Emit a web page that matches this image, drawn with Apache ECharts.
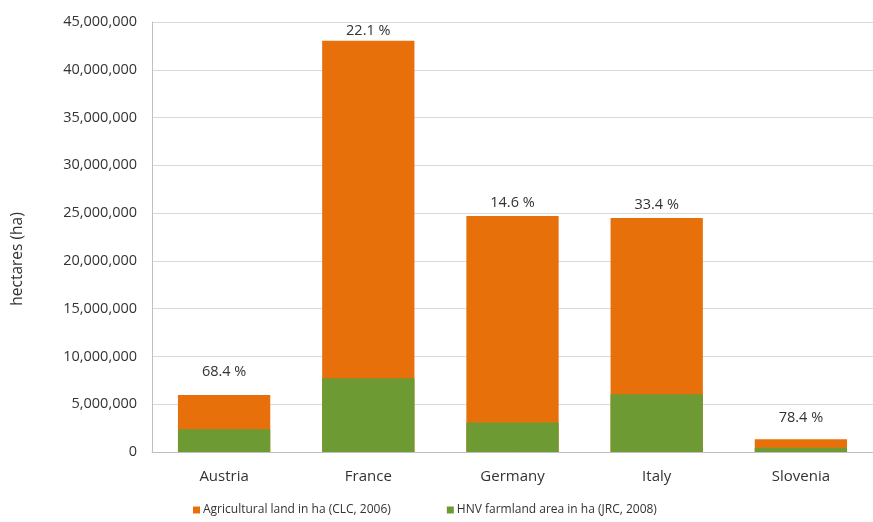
<!DOCTYPE html>
<html><head><meta charset="utf-8">
<script src="https://cdn.jsdelivr.net/npm/echarts@6/dist/echarts.min.js"></script>
<style>html,body{margin:0;padding:0;background:#fff}#c{width:873px;height:522px}</style>
</head><body><div id="c"></div>
<script>
const categories = ['Austria', 'France', 'Germany', 'Italy', 'Slovenia'];
const agriculturalLand = [5960000, 43040000, 24700000, 24500000, 1330000];
const hnvFarmland = [2380000, 7710000, 3100000, 6040000, 450000];
const shareLabels = ['68.4 %', '22.1 %', '14.6 %', '33.4 %', '78.4 %'];
const yTicks = [0, 5000000, 10000000, 15000000, 20000000, 25000000, 30000000, 35000000, 40000000, 45000000];
const seriesNames = ['Agricultural land in ha (CLC, 2006)', 'HNV farmland area in ha (JRC, 2008)'];
const yAxisTitle = 'hectares (ha)';

const labelGap = [16, 2, 6, 6, 14];
const FONT = '"Open Sans", sans-serif';
const chart = echarts.init(document.getElementById('c'));
chart.setOption({
  animation: false,
  textStyle: {fontFamily: FONT},
  grid: {left: 152, top: 22, width: 732, height: 430, containLabel: false},
  graphic: [{
    type: 'text', x: 18, y: 259, rotation: Math.PI / 2,
    style: {text: yAxisTitle, fontSize: 15.5, fill: '#333', fontFamily: FONT,
      align: 'center', verticalAlign: 'middle'}
  }],
  legend: {
    bottom: 1, left: 188, itemGap: 56, itemWidth: 7, itemHeight: 7, icon: 'rect',
    textStyle: {fontSize: 12, color: '#333', fontFamily: FONT, padding: [0, 0, 0, -2]},
    data: seriesNames
  },
  xAxis: {
    type: 'category', data: categories,
    axisLine: {lineStyle: {color: '#bfbfbf'}},
    axisTick: {show: false},
    axisLabel: {fontSize: 15, color: '#333', margin: 17, fontFamily: FONT}
  },
  yAxis: {
    type: 'value', min: yTicks[0], max: yTicks[yTicks.length - 1], interval: yTicks[1] - yTicks[0],
    axisLine: {show: true, lineStyle: {color: '#bfbfbf'}},
    axisTick: {show: false},
    splitLine: {lineStyle: {color: '#d9d9d9'}},
    axisLabel: {fontSize: 14.5, color: '#333', margin: 15, fontFamily: FONT,
      formatter: v => v.toLocaleString('en-US')}
  },
  series: [
    {
      name: seriesNames[0], type: 'bar', barWidth: '64%', barGap: '-100%',
      itemStyle: {color: '#E8700A'},
      data: agriculturalLand.map((v, i) => ({
        value: v,
        label: {show: true, position: 'top', distance: labelGap[i], formatter: shareLabels[i],
          fontSize: 14.5, color: '#333', fontFamily: FONT}
      }))
    },
    {
      name: seriesNames[1], type: 'bar', barWidth: '64%', barGap: '-100%',
      itemStyle: {color: '#6E9A33'},
      data: hnvFarmland
    }
  ]
});
</script></body></html>
